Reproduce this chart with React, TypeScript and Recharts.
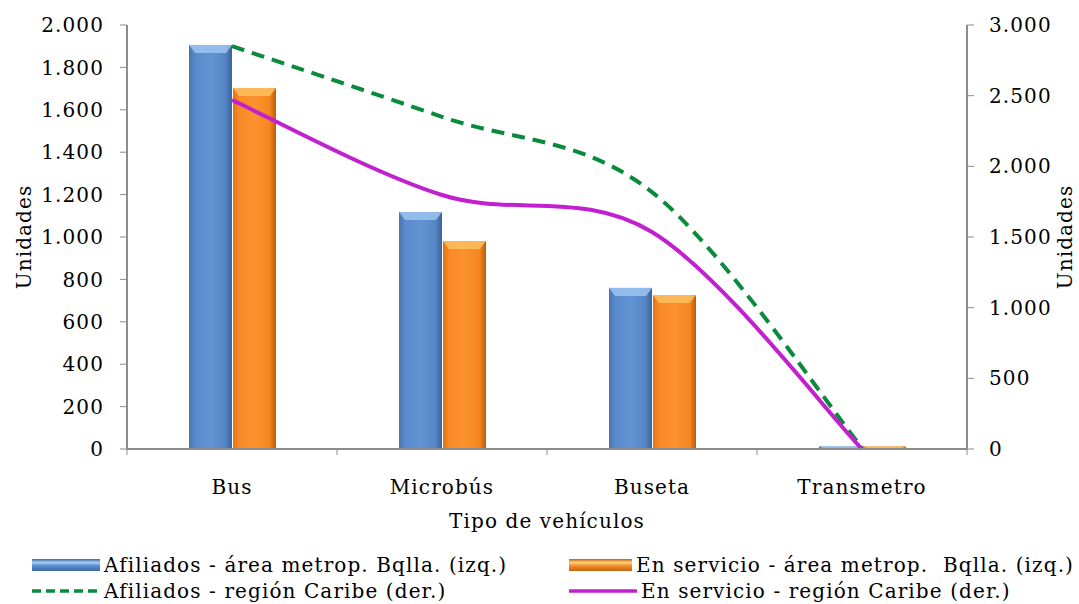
import React from 'react';
import { ComposedChart, Bar, Line, XAxis, YAxis } from 'recharts';

const categories = ['Bus', 'Microbús', 'Buseta', 'Transmetro'];
const afiliadosMetro = [1906, 1118, 760, 12];
const servicioMetro = [1703, 981, 726, 12];
const afiliadosCaribe = [2850, 2350, 1818, 10];
const servicioCaribe = [2469, 1797, 1535, 0];
const leftTicks = [0, 200, 400, 600, 800, 1000, 1200, 1400, 1600, 1800, 2000];
const rightTicks = [0, 500, 1000, 1500, 2000, 2500, 3000];

const data = categories.map((c, i) => ({
  cat: c,
  afM: afiliadosMetro[i],
  seM: servicioMetro[i],
  afC: afiliadosCaribe[i],
  seC: servicioCaribe[i],
}));

const FONT = '"DejaVu Serif", serif';
const FS = 20;
const LS = 1.1;
const AXIS = '#8c8c8c';

const fmt = (v: number) => String(v).replace(/\B(?=(\d{3})+(?!\d))/g, '.');

function catmullRom(context: any) {
  let pts: number[][] = [];
  return {
    areaStart() {},
    areaEnd() {},
    lineStart() { pts = []; },
    point(x: number, y: number) { pts.push([+x, +y]); },
    lineEnd() {
      if (!pts.length) return;
      context.moveTo(pts[0][0], pts[0][1]);
      for (let i = 0; i < pts.length - 1; i++) {
        const p0 = pts[i - 1] || pts[i];
        const p1 = pts[i];
        const p2 = pts[i + 1];
        const p3 = pts[i + 2] || p2;
        context.bezierCurveTo(
          p1[0] + (p2[0] - p0[0]) / 6, p1[1] + (p2[1] - p0[1]) / 6,
          p2[0] - (p3[0] - p1[0]) / 6, p2[1] - (p3[1] - p1[1]) / 6,
          p2[0], p2[1]
        );
      }
    },
  };
}

const makeBar = (id: string, top: string) => (props: any) => {
  const { x, y, width, height } = props;
  if (!height || height <= 0) return null;
  const cap = Math.min(8, height);
  return (
    <g>
      <rect x={x} y={y} width={width} height={height} fill={`url(#${id})`} />
      <polygon
        points={`${x},${y} ${x + width},${y} ${x + width - 6},${y + cap} ${x + 6},${y + cap}`}
        fill={top}
        opacity={0.85}
      />
    </g>
  );
};

const BlueBar = makeBar('gBlue', '#9cc4f2');
const OrangeBar = makeBar('gOrange', '#fcc060');

const XTick = (props: any) => {
  const { x, y, payload } = props;
  return (
    <g>
      <line x1={x - 105} y1={y - 8} x2={x - 105} y2={y - 2} stroke={AXIS} />
      {payload.index === categories.length - 1 && (
        <line x1={x + 105} y1={y - 8} x2={x + 105} y2={y - 2} stroke={AXIS} />
      )}
      <text x={x} y={y + 37} textAnchor="middle" fontFamily={FONT} fontSize={FS} letterSpacing={LS} fill="#000">
        {payload.value}
      </text>
    </g>
  );
};

const legendItems = [
  { label: 'Afiliados - área metrop. Bqlla. (izq.)', kind: 'blue' },
  { label: 'En servicio - área metrop.  Bqlla. (izq.)', kind: 'orange' },
  { label: 'Afiliados - región Caribe (der.)', kind: 'green' },
  { label: 'En servicio - región Caribe (der.)', kind: 'magenta' },
];

const LegendIcon = ({ kind }: { kind: string }) => {
  if (kind === 'blue' || kind === 'orange') {
    const id = kind === 'blue' ? 'lgBlue' : 'lgOrange';
    return (
      <svg width={68} height={16} style={{ display: 'block' }}>
        <defs>
          <linearGradient id={id} x1="0" y1="0" x2="0" y2="1">
            {kind === 'blue' ? (
              <>
                <stop offset="0" stopColor="#3f6aa0" />
                <stop offset="0.3" stopColor="#a8cdf5" />
                <stop offset="0.55" stopColor="#5a8fd0" />
                <stop offset="1" stopColor="#3f6aa0" />
              </>
            ) : (
              <>
                <stop offset="0" stopColor="#c0620e" />
                <stop offset="0.3" stopColor="#ffd27a" />
                <stop offset="0.55" stopColor="#f89030" />
                <stop offset="1" stopColor="#c0620e" />
              </>
            )}
          </linearGradient>
        </defs>
        <rect x={0} y={2} width={68} height={12} fill={`url(#${id})`} />
      </svg>
    );
  }
  return (
    <svg width={68} height={16} style={{ display: 'block' }}>
      <line
        x1={0}
        y1={8}
        x2={68}
        y2={8}
        stroke={kind === 'green' ? '#0a8a3c' : '#c21fd0'}
        strokeWidth={3.5}
        strokeDasharray={kind === 'green' ? '9 5' : undefined}
      />
    </svg>
  );
};

export default function App() {
  return (
    <div style={{ position: 'absolute', left: 0, top: 0, width: 1079, height: 604, background: '#fff', overflow: 'hidden' }}>
      <ComposedChart
        width={1079}
        height={604}
        data={data}
        margin={{ top: 25, right: 0, bottom: 95, left: 0 }}
        barSize={43}
        barGap={1}
      >
        <defs>
          <linearGradient id="gBlue" x1="0" y1="0" x2="1" y2="0">
            <stop offset="0" stopColor="#4a76ae" />
            <stop offset="0.15" stopColor="#5a8acb" />
            <stop offset="0.5" stopColor="#6294d4" />
            <stop offset="0.85" stopColor="#5585c5" />
            <stop offset="1" stopColor="#3d629a" />
          </linearGradient>
          <linearGradient id="gOrange" x1="0" y1="0" x2="1" y2="0">
            <stop offset="0" stopColor="#e07415" />
            <stop offset="0.15" stopColor="#f98a26" />
            <stop offset="0.5" stopColor="#fb922e" />
            <stop offset="0.85" stopColor="#f5861f" />
            <stop offset="1" stopColor="#b85d0c" />
          </linearGradient>
        </defs>
        <XAxis
          dataKey="cat"
          height={60}
          axisLine={{ stroke: AXIS, strokeWidth: 2 }}
          tickLine={false}
          tick={<XTick />}
          interval={0}
          label={{
            content: (p: any) => (
              <text
                x={p.viewBox.x + p.viewBox.width / 2}
                y={528}
                textAnchor="middle"
                fontFamily={FONT}
                fontSize={FS}
                letterSpacing={LS}
                fill="#000"
              >
                Tipo de vehículos
              </text>
            ),
          }}
        />
        <YAxis
          yAxisId="left"
          width={127}
          domain={[0, 2000]}
          ticks={leftTicks}
          interval={0}
          tickFormatter={fmt}
          axisLine={{ stroke: AXIS, strokeWidth: 2 }}
          tickLine={{ stroke: AXIS }}
          tickSize={7}
          tickMargin={16}
          tick={{ fontFamily: FONT, fontSize: FS, fill: '#000', letterSpacing: LS } as any}
          label={{
            content: (p: any) => {
              const cy = p.viewBox.y + p.viewBox.height / 2;
              return (
                <text
                  x={31}
                  y={cy}
                  textAnchor="middle"
                  transform={`rotate(-90 31 ${cy})`}
                  fontFamily={FONT}
                  fontSize={FS}
                  letterSpacing={LS}
                  fill="#000"
                >
                  Unidades
                </text>
              );
            },
          }}
        />
        <YAxis
          yAxisId="right"
          orientation="right"
          width={112}
          domain={[0, 3000]}
          ticks={rightTicks}
          interval={0}
          tickFormatter={fmt}
          axisLine={{ stroke: AXIS, strokeWidth: 2 }}
          tickLine={{ stroke: AXIS }}
          tickSize={7}
          tickMargin={15}
          tick={{ fontFamily: FONT, fontSize: FS, fill: '#000', textAnchor: 'start', letterSpacing: LS } as any}
          label={{
            content: (p: any) => {
              const cy = p.viewBox.y + p.viewBox.height / 2;
              return (
                <text
                  x={1072}
                  y={cy}
                  textAnchor="middle"
                  transform={`rotate(-90 1072 ${cy})`}
                  fontFamily={FONT}
                  fontSize={FS}
                  letterSpacing={LS}
                  fill="#000"
                >
                  Unidades
                </text>
              );
            },
          }}
        />
        <Bar yAxisId="left" dataKey="afM" shape={BlueBar} isAnimationActive={false} />
        <Bar yAxisId="left" dataKey="seM" shape={OrangeBar} isAnimationActive={false} />
        <Line
          yAxisId="right"
          dataKey="afC"
          type={catmullRom as any}
          stroke="#0a8a3c"
          strokeWidth={4}
          strokeDasharray="13 8"
          dot={false}
          activeDot={false}
          isAnimationActive={false}
        />
        <Line
          yAxisId="right"
          dataKey="seC"
          type={catmullRom as any}
          stroke="#c21fd0"
          strokeWidth={4}
          dot={false}
          activeDot={false}
          isAnimationActive={false}
        />
      </ComposedChart>
      <div
        style={{
          position: 'absolute',
          left: 32,
          top: 554,
          display: 'grid',
          gridTemplateColumns: '537px 505px',
          rowGap: 4,
          fontFamily: FONT,
          fontSize: FS,
          letterSpacing: LS,
          color: '#000',
          lineHeight: '22px',
        }}
      >
        {legendItems.map((it) => (
          <div key={it.label} style={{ display: 'flex', alignItems: 'center', whiteSpace: 'pre' }}>
            <LegendIcon kind={it.kind} />
            <span style={{ marginLeft: 4 }}>{it.label}</span>
          </div>
        ))}
      </div>
    </div>
  );
}
